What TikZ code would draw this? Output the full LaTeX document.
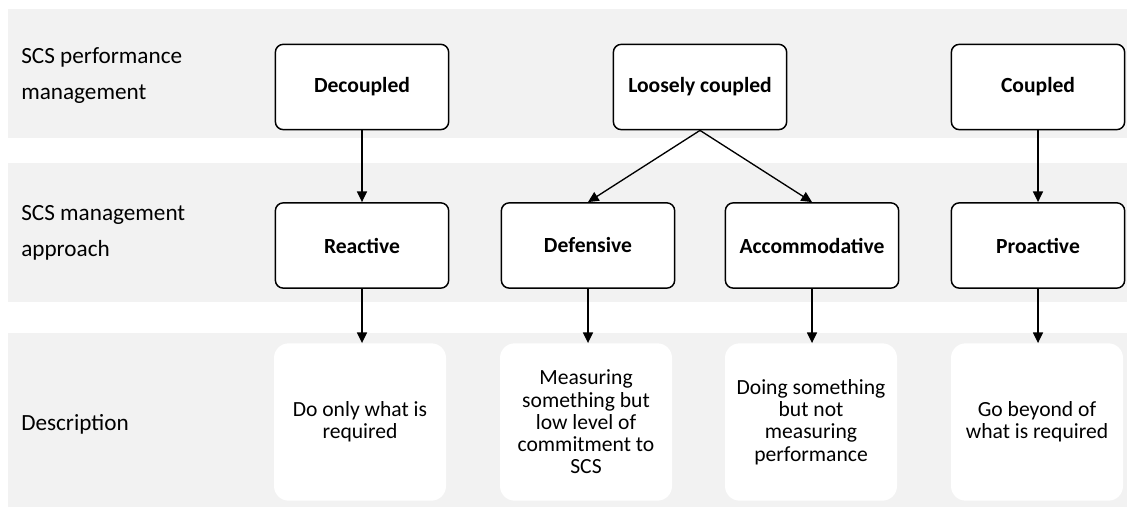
\documentclass[tikz,border=0pt]{standalone}
\usepackage{fontspec}
\setmainfont{Carlito}
\usetikzlibrary{arrows.meta}
\definecolor{bandgray}{HTML}{F2F2F2}
\tikzset{
  band/.style={fill=bandgray, draw=none},
  rowlabel/.style={anchor=west, align=left, inner sep=0pt, font=\fontsize{17.4}{27}\selectfont},
  boxnode/.style={draw=black, line width=1.1pt, rounded corners=6pt, fill=white,
    minimum width=130pt, minimum height=64pt, font=\fontsize{16.2}{18}\selectfont\bfseries, inner sep=2pt},
  descnode/.style={fill=white, draw=none, rounded corners=11pt, minimum width=129pt,
    minimum height=118pt, align=center, font=\fontsize{16.2}{16.7}\selectfont, inner sep=2pt},
  conn/.style={line width=1pt, -{Triangle[length=8pt,width=7.5pt]}}
}
\begin{document}
\begin{tikzpicture}[x=0.75pt, y=-0.75pt]
\useasboundingbox (0,0) rectangle (1134,509);
% bands
\fill[band] (8,9) rectangle (1127,138);
\fill[band] (8,163) rectangle (1127,302);
\fill[band] (8,333) rectangle (1127,507);
% row labels
\node[rowlabel] (l1) at (21,76) {SCS performance\\management};
\node[rowlabel] (l2) at (21,233) {SCS management\\approach};
\node[rowlabel] (l3) at (21,424) {Description};
% top row
\node[boxnode] (dec) at (362,87) {Decoupled};
\node[boxnode] (loose) at (700,87) {Loosely coupled};
\node[boxnode] (coup) at (1038,87) {Coupled};
% middle row
\node[boxnode] (reac) at (362,245.5) {Reactive};
\node[boxnode] (def) at (588,245.5) {Defensive};
\node[boxnode] (acc) at (812,245.5) {Accommodative};
\node[boxnode] (pro) at (1038,245.5) {Proactive};
% descriptions
\node[descnode] (d1) at (360,422) {Do only what is\\required};
\node[descnode] (d2) at (586,422) {Measuring\\something but\\low level of\\commitment to\\SCS};
\node[descnode] (d3) at (811,422) {Doing something\\but not\\measuring\\performance};
\node[descnode] (d4) at (1037,422) {Go beyond of\\what is required};
% connectors
\draw[conn] (dec.south) -- (reac.north);
\draw[conn] (loose.south) -- (def.north);
\draw[conn] (loose.south) -- (acc.north);
\draw[conn] (coup.south) -- (pro.north);
\draw[conn] (reac.south) -- (reac.south |- d1.north);
\draw[conn] (def.south) -- (def.south |- d2.north);
\draw[conn] (acc.south) -- (acc.south |- d3.north);
\draw[conn] (pro.south) -- (pro.south |- d4.north);
\end{tikzpicture}
\end{document}
